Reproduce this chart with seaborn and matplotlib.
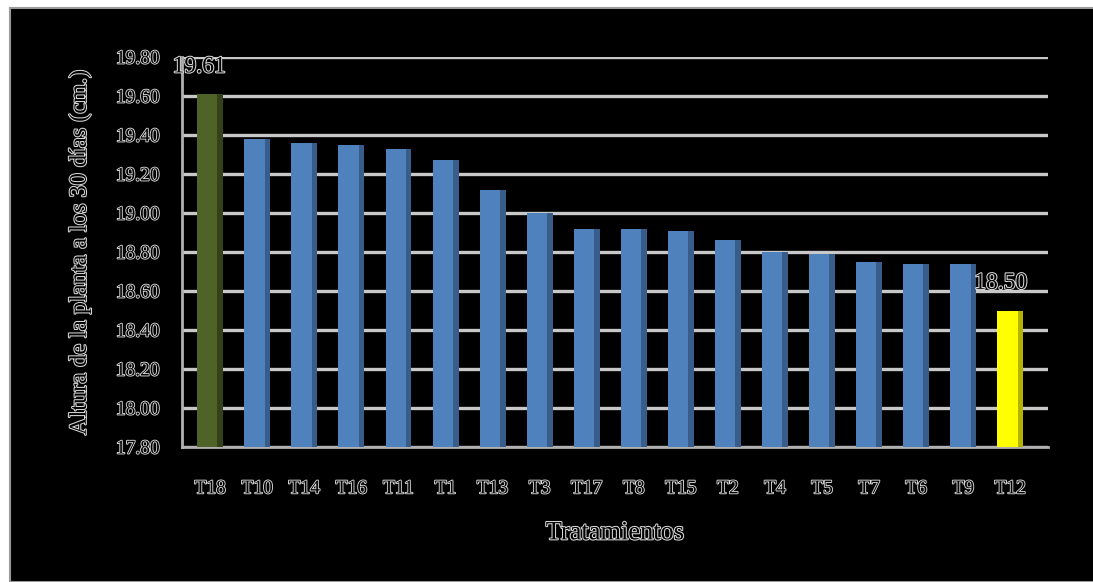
import matplotlib
matplotlib.use('Agg')
import matplotlib.pyplot as plt
import matplotlib.patheffects as pe
from matplotlib.patches import Rectangle
import seaborn as sns
import pandas as pd

# Datos
tratamientos = ['T18', 'T10', 'T14', 'T16', 'T11', 'T1', 'T13', 'T3', 'T17',
                'T8', 'T15', 'T2', 'T4', 'T5', 'T7', 'T6', 'T9', 'T12']
altura = [19.61, 19.38, 19.36, 19.35, 19.33, 19.27, 19.12, 19.00, 18.92,
          18.92, 18.91, 18.86, 18.80, 18.79, 18.75, 18.74, 18.74, 18.50]
colores = ['#4f6228'] + ['#4f81bd'] * 16 + ['#ffff00']
lados = ['#344119'] + ['#385d8a'] * 16 + ['#b3b300']
yticks = [17.80, 18.00, 18.20, 18.40, 18.60, 18.80, 19.00, 19.20, 19.40, 19.60, 19.80]

df = pd.DataFrame({'Tratamiento': tratamientos, 'Altura': altura})

sns.set_style('dark')
plt.rcParams['font.family'] = ['Liberation Serif', 'DejaVu Serif']

def contorno(lw=1.3):
    # texto hueco: relleno negro con trazo claro
    return [pe.withStroke(linewidth=lw, foreground='#d9d9d9')]

fig = plt.figure(figsize=(10.93, 5.82), dpi=100, facecolor='white')
# fondo negro del gráfico
fig.patches.append(Rectangle((10 / 1093, 0), 1.0, 574 / 582, transform=fig.transFigure,
                             facecolor='black', edgecolor='#9a9a9a', linewidth=1.5, zorder=-5))

ax = fig.add_axes([182 / 1093, (582 - 447) / 582, (1048 - 182) / 1093, (447 - 57) / 582])
ax.set_facecolor('black')

sns.barplot(data=df, x='Tratamiento', y='Altura', hue='Tratamiento', palette=colores,
            saturation=1, legend=False, width=0.55, ax=ax, zorder=3, edgecolor='none')
ax.set_ylim(17.80, 19.80)
ax.set_xlim(-0.6, 17.8)

# cara lateral oscura para efecto 3D
for p, c in zip(ax.patches, lados):
    w = p.get_width() * 0.22
    ax.add_patch(Rectangle((p.get_x() + p.get_width() - w, p.get_y()), w, p.get_height(),
                           facecolor=c, edgecolor='none', zorder=4))

ax.set_yticks(yticks)
ax.set_yticklabels([f'{v:.2f}' for v in yticks])
ax.grid(axis='y', color='#c8c8c8', linewidth=2.4, zorder=0)
ax.grid(axis='x', visible=False)
for s in ['top', 'right']:
    ax.spines[s].set_visible(False)
for s in ['left', 'bottom']:
    ax.spines[s].set_color('#b0b0b0')
    ax.spines[s].set_linewidth(2)

ax.tick_params(axis='y', colors='#b0b0b0', length=6, width=1.5, pad=10)
ax.tick_params(axis='x', length=0, pad=24)
for lab in ax.get_yticklabels() + ax.get_xticklabels():
    lab.set_color('black')
    lab.set_fontsize(14)
    lab.set_path_effects(contorno())

ax.set_xlabel('Tratamientos', fontsize=19, color='black', labelpad=18,
              path_effects=contorno(1.5))
ax.set_ylabel('Altura de la planta a los 30 días (cm.)', fontsize=17.5, color='black',
              labelpad=18, path_effects=contorno(1.5))

# etiquetas de valor en los extremos
for i, dx in [(0, -8), (len(altura) - 1, -7)]:
    ax.annotate(f'{altura[i]:.2f}', (i, altura[i]), xytext=(dx, 12), textcoords='offset points',
                ha='center', va='bottom', fontsize=17, color='black', zorder=6,
                path_effects=contorno(1.5))

fig.savefig('out.png', dpi=100, facecolor='white')
